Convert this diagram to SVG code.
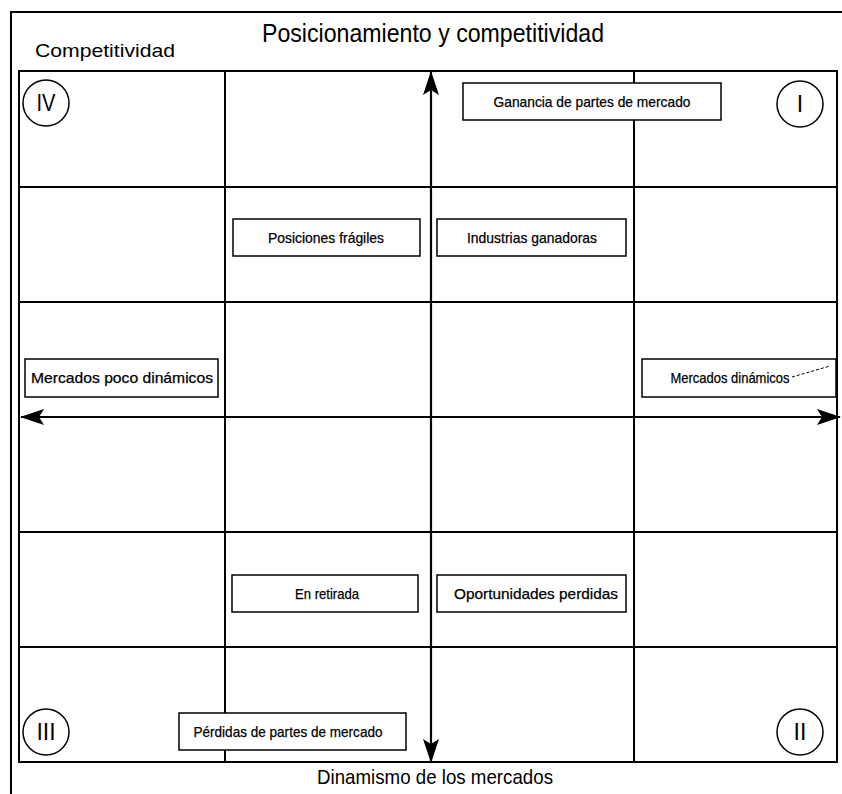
<svg xmlns="http://www.w3.org/2000/svg" width="842" height="794" viewBox="0 0 842 794">
<style>
text{font-family:"Liberation Sans",Arial,sans-serif;fill:#000;text-anchor:middle}
.grid{stroke:#000;stroke-width:2;fill:none}
.frame{stroke:#000;stroke-width:2;fill:none}
.box rect{fill:#fff;stroke:#000;stroke-width:1.5}
.box text{font-size:15px;stroke:#000;stroke-width:0.25}
.q circle{fill:#fff;stroke:#000;stroke-width:1.5}
.q text{font-size:23px}
.axis{stroke:#000;stroke-width:2.2;fill:none}
</style>
<defs>
<marker id="ah" viewBox="0 0 24 16" refX="23" refY="8" markerWidth="24" markerHeight="16" markerUnits="userSpaceOnUse" orient="auto-start-reverse">
<path d="M0,0 L24,8 L0,16 L5,8 Z" fill="#000"/>
</marker>
</defs>
<rect width="842" height="794" fill="#fff"/>
<g id="frame">
<path class="frame" d="M11,794 V12 H842"/>
<rect class="grid" x="19" y="71" width="818" height="691"/>
</g>
<g id="grid">
<line class="grid" x1="225" y1="71" x2="225" y2="762"/>
<line class="grid" x1="634" y1="71" x2="634" y2="762"/>
<line class="grid" x1="19" y1="187" x2="837" y2="187"/>
<line class="grid" x1="19" y1="302" x2="837" y2="302"/>
<line class="grid" x1="19" y1="532" x2="837" y2="532"/>
<line class="grid" x1="19" y1="647" x2="837" y2="647"/>
</g>
<g id="titles">
<text x="433" y="42" font-size="26" textLength="342" lengthAdjust="spacingAndGlyphs">Posicionamiento y competitividad</text>
<text x="105" y="57" font-size="19" textLength="140" lengthAdjust="spacingAndGlyphs">Competitividad</text>
<text x="435" y="784" font-size="21" textLength="236" lengthAdjust="spacingAndGlyphs">Dinamismo de los mercados</text>
</g>
<g id="connectors">
<line class="axis" x1="431" y1="762" x2="431" y2="72" marker-end="url(#ah)" marker-start="url(#ah)"/>
<line class="axis" x1="21" y1="417" x2="840" y2="417" marker-end="url(#ah)" marker-start="url(#ah)"/>
</g>
<g id="q4" class="q"><circle cx="46" cy="103" r="23"/><text x="46" y="111" textLength="19" lengthAdjust="spacingAndGlyphs">IV</text></g>
<g id="q1" class="q"><circle cx="800" cy="104" r="23"/><text x="800" y="112">I</text></g>
<g id="q3" class="q"><circle cx="46" cy="732" r="23"/><text x="46" y="740">III</text></g>
<g id="q2" class="q"><circle cx="800" cy="732" r="23"/><text x="800" y="740">II</text></g>
<g id="ganancia" class="box"><rect x="463" y="83" width="258" height="37"/><text x="592" y="107" textLength="197" lengthAdjust="spacingAndGlyphs">Ganancia de partes de mercado</text></g>
<g id="posiciones" class="box"><rect x="233" y="219" width="187" height="37"/><text x="326" y="243" textLength="116" lengthAdjust="spacingAndGlyphs">Posiciones frágiles</text></g>
<g id="industrias" class="box"><rect x="437" y="219" width="189" height="37"/><text x="532" y="243" textLength="130" lengthAdjust="spacingAndGlyphs">Industrias ganadoras</text></g>
<g id="poco" class="box"><rect x="25" y="359" width="193" height="38"/><text x="122" y="383" textLength="182" lengthAdjust="spacingAndGlyphs">Mercados poco dinámicos</text></g>
<g id="dinamicos" class="box"><rect x="642" y="359" width="194" height="38"/><text x="730" y="383" textLength="119" lengthAdjust="spacingAndGlyphs">Mercados dinámicos</text><line x1="792" y1="377" x2="830" y2="366" stroke="#000" stroke-width="1" stroke-dasharray="3,2"/></g>
<g id="retirada" class="box"><rect x="232" y="575" width="186" height="37"/><text x="327" y="599" textLength="64" lengthAdjust="spacingAndGlyphs">En retirada</text></g>
<g id="oportunidades" class="box"><rect x="437" y="575" width="189" height="37"/><text x="536" y="599" textLength="164" lengthAdjust="spacingAndGlyphs">Oportunidades perdidas</text></g>
<g id="perdidas" class="box"><rect x="179" y="713" width="227" height="37"/><text x="288" y="737" textLength="189" lengthAdjust="spacingAndGlyphs">Pérdidas de partes de mercado</text></g>
</svg>
